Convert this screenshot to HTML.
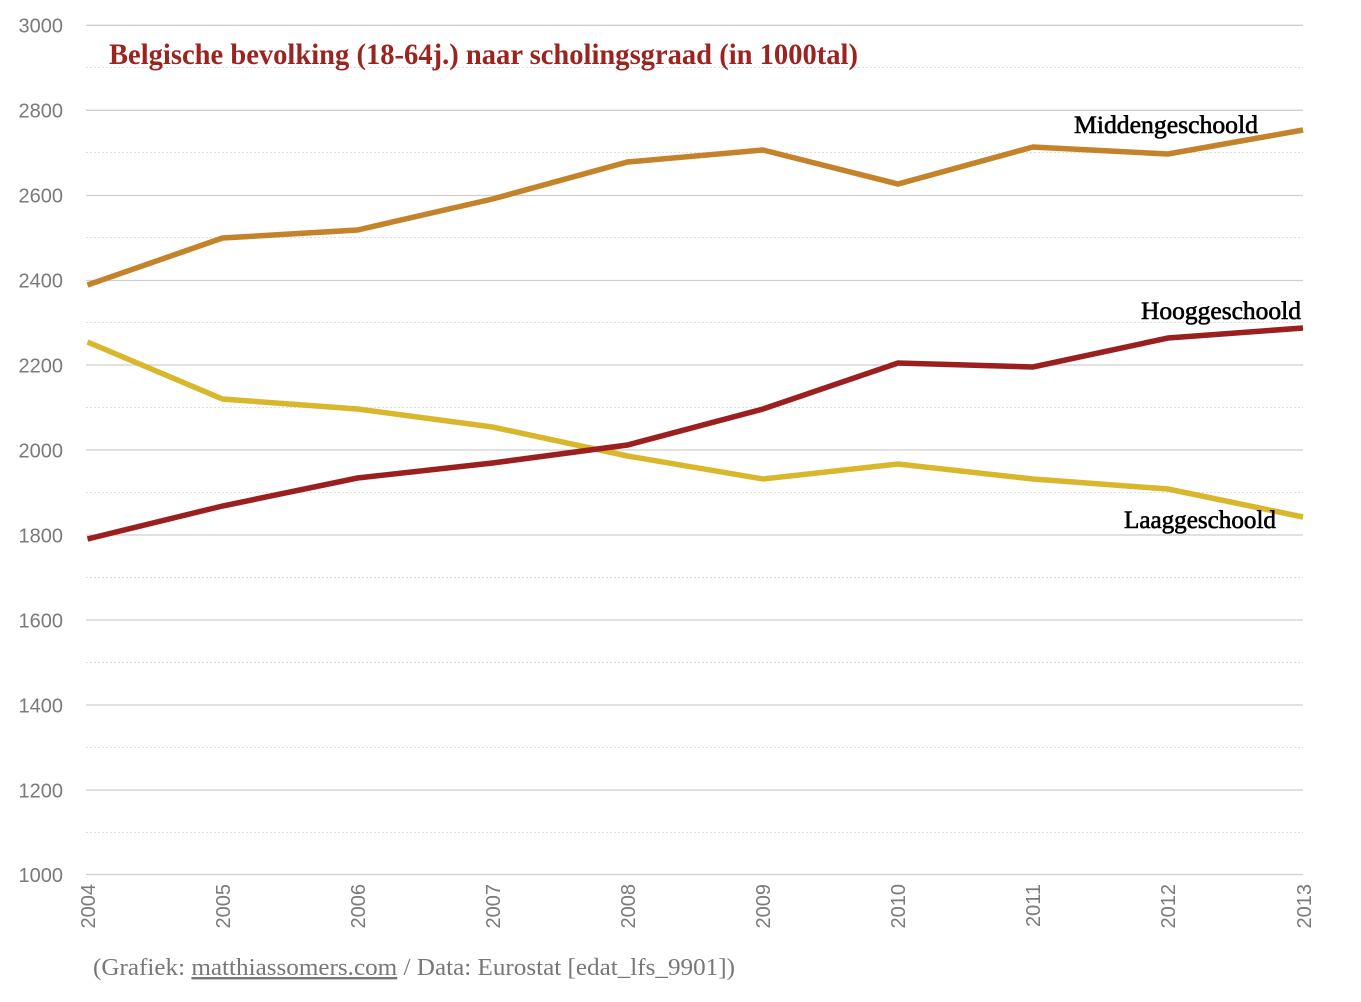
<!DOCTYPE html>
<html>
<head>
<meta charset="utf-8">
<style>
html,body{margin:0;padding:0;background:#fff;}
svg{display:block;}
</style>
</head>
<body>
<svg width="1361" height="1002" viewBox="0 0 1361 1002" xmlns="http://www.w3.org/2000/svg">
  <rect width="1361" height="1002" fill="#fff"/>
  <!-- minor dotted gridlines -->
  <g stroke="#dcdcdc" stroke-width="1" stroke-dasharray="2,2">
    <line x1="86" x2="1303" y1="67.5" y2="67.5"/>
    <line x1="86" x2="1303" y1="152.5" y2="152.5"/>
    <line x1="86" x2="1303" y1="237.5" y2="237.5"/>
    <line x1="86" x2="1303" y1="322.5" y2="322.5"/>
    <line x1="86" x2="1303" y1="407.5" y2="407.5"/>
    <line x1="86" x2="1303" y1="492.5" y2="492.5"/>
    <line x1="86" x2="1303" y1="577.5" y2="577.5"/>
    <line x1="86" x2="1303" y1="662.5" y2="662.5"/>
    <line x1="86" x2="1303" y1="747.5" y2="747.5"/>
    <line x1="86" x2="1303" y1="832.5" y2="832.5"/>
  </g>
  <!-- major gridlines -->
  <g stroke="#cfcfcf" stroke-width="1.3">
    <line x1="86" x2="1303" y1="25.3" y2="25.3"/>
    <line x1="86" x2="1303" y1="110.3" y2="110.3"/>
    <line x1="86" x2="1303" y1="195.5" y2="195.5"/>
    <line x1="86" x2="1303" y1="280.5" y2="280.5"/>
    <line x1="86" x2="1303" y1="365" y2="365"/>
    <line x1="86" x2="1303" y1="450" y2="450"/>
    <line x1="86" x2="1303" y1="535" y2="535"/>
    <line x1="86" x2="1303" y1="620" y2="620"/>
    <line x1="86" x2="1303" y1="705" y2="705"/>
    <line x1="86" x2="1303" y1="790" y2="790"/>
    <line x1="86" x2="1303" y1="874.5" y2="874.5"/>
  </g>
  <!-- y labels -->
  <g font-family="'Liberation Sans', sans-serif" font-size="20" fill="#7a7a7a" text-anchor="end">
    <text x="63" y="32.5">3000</text>
    <text x="63" y="117.5">2800</text>
    <text x="63" y="202.5">2600</text>
    <text x="63" y="287.5">2400</text>
    <text x="63" y="372.5">2200</text>
    <text x="63" y="457.5">2000</text>
    <text x="63" y="542.5">1800</text>
    <text x="63" y="627.5">1600</text>
    <text x="63" y="712.5">1400</text>
    <text x="63" y="797.5">1200</text>
    <text x="63" y="882">1000</text>
  </g>
  <!-- x labels -->
  <g font-family="'Liberation Sans', sans-serif" font-size="20" fill="#7a7a7a" text-anchor="end">
    <text transform="translate(95,884) rotate(-90)">2004</text>
    <text transform="translate(230,884) rotate(-90)">2005</text>
    <text transform="translate(365,884) rotate(-90)">2006</text>
    <text transform="translate(500,884) rotate(-90)">2007</text>
    <text transform="translate(635,884) rotate(-90)">2008</text>
    <text transform="translate(770,884) rotate(-90)">2009</text>
    <text transform="translate(905,884) rotate(-90)">2010</text>
    <text transform="translate(1040,884) rotate(-90)">2011</text>
    <text transform="translate(1175,884) rotate(-90)">2012</text>
    <text transform="translate(1311,884) rotate(-90)">2013</text>
  </g>
  <!-- series -->
  <g fill="none" stroke-width="5.5" stroke-linejoin="miter" stroke-linecap="butt">
    <polyline stroke="#c4822a" points="87.5,285 222.5,238 357.5,230 492.5,199 627.5,162 763,150 898,184 1033,147 1168,154 1303,130"/>
    <polyline stroke="#d8b72c" points="87.5,342 222.5,399 357.5,409 492.5,427 627.5,456 763,479 898,464 1033,479 1168,489 1303,517"/>
    <polyline stroke="#9b1f1f" points="87.5,539 222.5,506 357.5,478 492.5,463 627.5,445 763,409 898,363 1033,367 1168,338 1303,328"/>
  </g>
  <!-- series labels -->
  <g font-family="'Liberation Serif', serif" font-size="25" fill="#000" stroke="#000" stroke-width="0.6">
    <text x="1074" y="133" textLength="184" lengthAdjust="spacingAndGlyphs">Middengeschoold</text>
    <text x="1141" y="319" textLength="160" lengthAdjust="spacingAndGlyphs">Hooggeschoold</text>
    <text x="1124" y="528" textLength="152" lengthAdjust="spacingAndGlyphs">Laaggeschoold</text>
  </g>
  <!-- title -->
  <text x="109" y="64" font-family="'Liberation Serif', serif" font-weight="bold" font-size="30" fill="#9a2420" textLength="749" lengthAdjust="spacingAndGlyphs">Belgische bevolking (18-64j.) naar scholingsgraad (in 1000tal)</text>
  <!-- footer -->
  <text x="93" y="975" font-family="'Liberation Serif', serif" font-size="24" fill="#777" textLength="642" lengthAdjust="spacingAndGlyphs">(Grafiek: <tspan text-decoration="underline">matthiassomers.com</tspan> / Data: Eurostat [edat_lfs_9901])</text>
</svg>
</body>
</html>
